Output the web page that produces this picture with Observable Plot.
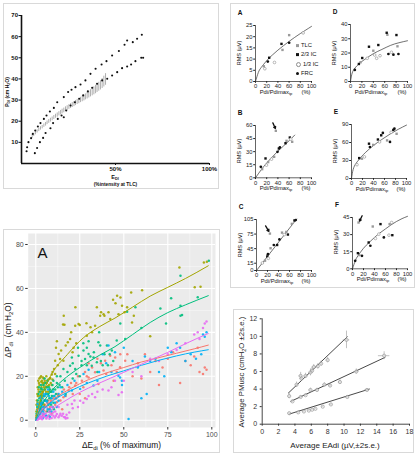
<!DOCTYPE html>
<html>
<head>
<meta charset="utf-8">
<script src="https://cdn.jsdelivr.net/npm/d3@7"></script>
<script src="https://cdn.jsdelivr.net/npm/@observablehq/plot@0.6"></script>
<style>
  body { margin: 0; background: #fff; }
  #fig { position: relative; width: 418px; height: 456px; overflow: hidden; background: #fff;
         font-family: "Liberation Sans", Arial, Helvetica, sans-serif; color: #111; }
  .box { position: absolute; border: 1.5px solid #d9d9d9; box-sizing: border-box; }
  .t { position: absolute; white-space: nowrap; line-height: 1; }
  .t sub { font-size: 70%; vertical-align: -0.3em; line-height: 0; }
  .sym { display: inline-block; width: 3px; height: 3px; margin-right: 2px; vertical-align: middle; }
</style>
</head>
<body>
<div id="fig"></div>
<script>
// ---------- Panel 1: Pdi vs diaphragm EMG intensity (% of TLC) ----------
const tlcUpper = [[2.7,5.8],[3.0,7.7],[3.7,10.1],[5.1,12.0],[6.0,14.0],[7.3,15.6],[8.7,17.5],[10.1,19.1],[11.9,21.1],[13.3,22.7],[15.1,24.6],[17.2,26.3],[19.0,29.0],[22.5,31.4],[24.8,33.8],[26.6,34.9],[28.7,36.1],[31.4,37.4],[34.0,39.3],[36.7,42.4],[39.4,44.8],[42.6,46.8],[45.2,48.4],[48.2,51.1],[51.8,53.2],[54.8,56.2],[56.2,58.2],[59.2,57.4],[61.5,59.0],[64.0,60.9]];
const tlcLower = [[7.1,4.9],[8.3,7.3],[9.8,10.1],[11.5,12.1],[12.8,14.4],[15.4,16.7],[16.8,19.1],[19.3,21.1],[21.3,22.7],[22.5,21.9],[23.8,25.1],[26.1,27.4],[28.4,29.0],[30.7,30.6],[32.8,32.2],[35.3,34.1],[37.6,35.8],[40.2,37.7],[42.9,39.3],[45.6,40.1],[48.2,41.6],[50.9,43.2],[53.5,45.1],[56.2,45.9],[58.3,46.8],[60.6,48.4],[63.7,50.0],[64.7,50.0]];
// mean band: [x, low, high]
const tlcBand = [[5.7,12.0,13.6],[6.5,12.8,14.3],[7.4,13.6,15.1],[8.3,14.4,15.9],[9.2,15.1,16.7],[10.1,15.8,17.4],[11.0,16.4,18.0],[11.9,17.1,18.7],[12.8,17.7,19.4],[13.6,18.4,20.1],[14.5,19.0,20.8],[15.4,19.6,21.4],[16.3,20.2,22.0],[17.2,20.8,22.7],[18.1,21.4,23.3],[19.0,21.9,23.9],[19.9,22.5,24.5],[20.8,23.0,25.1],[21.6,23.5,25.7],[22.5,24.0,26.2],[23.4,24.6,26.8],[24.3,25.1,27.3],[25.2,25.6,27.8],[26.1,26.0,28.3],[27.0,26.5,28.8],[27.9,26.9,29.3],[28.7,27.4,29.8],[29.6,27.9,30.3],[30.5,28.3,30.8],[31.4,28.8,31.3],[32.3,29.2,31.8],[33.2,29.6,32.4],[34.0,30.1,32.9],[34.9,30.5,33.5],[35.8,31.0,34.2],[36.7,31.5,34.9],[37.6,32.0,35.6],[38.5,32.5,36.3],[39.4,33.0,37.0],[40.2,33.6,37.6],[41.1,34.2,38.4],[42.0,34.8,39.2],[42.9,35.5,40.2],[43.8,36.2,41.3],[44.7,37.0,42.5]];
const p1YTicks = [10,20,30,40,50,60,70];
const p1XTicks = [50,100];

// ---------- Panel 2: RMS vs Pdi/Pdimax, six subjects ----------
const lungVolumes = ["TLC","2/3 IC","1/3 IC","FRC"];
const rmsA = [[14.9,6.8,"TLC"],[16.7,5.7,"1/3 IC"],[22,8.9,"FRC"],[24.4,10.6,"2/3 IC"],[33.9,8.5,"1/3 IC"],[46.4,16.8,"2/3 IC"],[48.2,14.1,"TLC"],[60.1,17.3,"FRC"],[60.1,20.7,"TLC"],[85.1,21.7,"1/3 IC"]];
const fitA = [[0,0],[5,4],[10,6.2],[20,9.3],[30,11.8],[40,14],[50,16],[60,17.9],[70,19.7],[80,21.4],[90,23],[100,24.6]];
const rmsD = [[7.6,8.1,"FRC"],[14.7,12.3,"2/3 IC"],[17.6,13.5,"TLC"],[20.6,16.5,"2/3 IC"],[29.4,16.3,"1/3 IC"],[32.4,24.4,"2/3 IC"],[40,21.6,"TLC"],[42.4,18.6,"1/3 IC"],[45.9,16.3,"1/3 IC"],[48.8,25.6,"2/3 IC"],[51.8,18.1,"1/3 IC"],[63.5,34.2,"2/3 IC"],[64.7,32.8,"TLC"],[66.5,19.3,"FRC"],[71.8,20.5,"1/3 IC"],[75.3,18.8,"FRC"],[80.6,32.6,"2/3 IC"],[82.4,24.7,"TLC"],[84.1,19.3,"FRC"]];
const fitD = [[0,0],[3,6],[8,9.5],[15,12.5],[25,15.5],[40,19.5],[55,22.5],[70,25.3],[85,27.2],[100,28.6]];
const rmsB = [[9.5,12.6,"FRC"],[11.9,9.9,"TLC"],[17.9,22.2,"2/3 IC"],[19.6,14.5,"1/3 IC"],[22.6,18,"TLC"],[28.6,21.4,"1/3 IC"],[33.3,24.1,"TLC"],[39.3,29.8,"FRC"],[41.7,33.6,"2/3 IC"],[43.5,34.8,"FRC"],[53.6,39.7,"2/3 IC"],[55.4,42.4,"TLC"],[61.3,46.2,"2/3 IC"],[63.1,44.3,"1/3 IC"],[65.5,41.3,"TLC"],[36.3,53.9,"TLC"]];
const fitB = [[0,0],[10,9],[20,17],[30,24],[40,30.5],[50,36.5],[60,42.5],[70,49]];
const arrowB = [[31,63,35.5,56.5]];
const rmsE = [[10,23,"1/3 IC"],[14,34,"2/3 IC"],[19,33,"TLC"],[23.5,36,"1/3 IC"],[31.8,58,"2/3 IC"],[33.5,52.5,"FRC"],[39.4,56,"TLC"],[48,65,"2/3 IC"],[51,61,"1/3 IC"],[54,72,"2/3 IC"],[57,76,"FRC"],[64.7,63.5,"TLC"],[70,61,"FRC"],[72,77,"1/3 IC"],[76,81,"2/3 IC"],[78,83,"FRC"],[82,74.5,"TLC"]];
const fitE = [[0,0],[3,15],[8,25],[15,33],[25,43],[40,55],[55,65],[70,74],[85,82],[100,89]];
const rmsC = [[10.7,15.5,"1/3 IC"],[15.5,20.2,"TLC"],[19.6,28.9,"2/3 IC"],[20.8,33.6,"FRC"],[21.5,25,"1/3 IC"],[25.6,45.8,"TLC"],[31.5,52.5,"FRC"],[37.5,52.5,"2/3 IC"],[41.7,64,"FRC"],[46.4,78,"TLC"],[50.6,74,"1/3 IC"],[54.2,79.4,"TLC"],[57.1,74,"2/3 IC"],[64.3,96,"TLC"],[69,103,"2/3 IC"],[71.4,104,"FRC"],[24.4,76,"TLC"]];
const fitC = [[0,0],[73,106]];
const arrowC = [[16.5,92,22.5,80.5]];
const rmsF = [[4.9,7,"FRC"],[9.8,13.7,"2/3 IC"],[12.3,12,"TLC"],[17.2,11.4,"FRC"],[29.4,23.1,"2/3 IC"],[32.5,20.2,"FRC"],[36.8,37.1,"TLC"],[41.7,26.6,"1/3 IC"],[47.9,30.4,"1/3 IC"],[50.9,39.2,"2/3 IC"],[57,27.5,"FRC"],[66.3,29.5,"1/3 IC"],[67.5,39.2,"TLC"],[71.2,40.6,"1/3 IC"],[72.4,29.5,"2/3 IC"],[11,40.6,"TLC"]];
const fitF = [[0,0],[5,7],[10,11.5],[20,18],[30,23],[40,27.5],[50,31.5],[60,35],[70,38.5],[80,41.5],[90,44],[100,46]];
const arrowF = [[17.5,46.5,12.8,41.8]];
const pctTicks = [0,20,40,60,80,100];

// ---------- Panel 3: delta Pdi vs delta Edi, five subjects ----------
const subjRed = [[1,1],[2,3],[3,5],[4,2],[5,7],[6,4],[7,9],[8,6],[9,3],[10,10],[11,7],[12,8.2],[13,11],[15.7,10.5],[16,14],[18.6,13.5],[20,17],[22.4,15.8],[24,20],[26.2,18],[28,22],[30,19.5],[32,24],[33.7,21.8],[35.6,16.5],[38.5,22.6],[39.4,27.1],[42.3,29.4],[44.2,18],[45.1,28.6],[47.9,24.1],[50.8,27.1],[52,30],[55,20],[58,26],[60,19],[62,30],[65,22],[68,27],[70,16],[72,24],[75,28],[78,31],[82,17],[85,27],[88,25],[90,29],[93,22],[95,21],[96,24],[97,23],[92,33],[25,12],[15,5],[35,28],[48,30],[28,10],[40,21],[37,26],[43,25],[30,26],[46,22],
  [0.5,2],[1.5,4],[2.5,1],[3.5,7],[4.5,4.5],[6.5,8],[7.5,5],[8.5,9],[9.5,6],[11.5,10],[12.5,12],[14,9],[17,11],[19,15],[21,12],[23,17],[27,15],[29,20]];
const subjOlive = [[0.5,2],[0.8,5],[1,8],[1.2,11],[1.5,14],[1.8,17],[2,19],[2.2,3],[2.5,6],[2.8,9],[3,12],[3.2,15],[3.5,18],[3.8,10],[4,13],[4.2,16],[4.5,19],[4.8,7],[5,11],[5.2,14],[5.5,17],[6,15],[6.5,18],[7,13],[7.5,16],[8,19],[8.2,19.2],[9.1,20.8],[10.4,23.3],[11,27.1],[13,30.2],[13.8,27.9],[15.7,27.1],[14.4,31.7],[16.3,43.5],[17,34],[18.2,35.5],[20.1,40],[20.9,30.9],[22.4,43],[22.5,51.4],[24.3,43.8],[25,43.3],[15.9,47.6],[15.5,43.6],[29,38.5],[28.8,44.1],[31.1,42.3],[32,40],[33.7,43],[34.7,51.4],[36.6,47.6],[37.1,49.1],[38.5,48.3],[39,47.6],[41.3,49.1],[42.3,46.1],[43.9,54.8],[45.3,53.3],[46.2,56.7],[47,48.3],[48.1,55.9],[49,52.1],[50.4,49.1],[51.9,51.4],[54.2,58.2],[54.7,44.5],[55.7,47.6],[60.4,59.2],[65,38.2],[81.6,69.5],[90.3,60.5],[93.6,60.8],[95.5,71.8],[97.2,72.1],[12,36],[11.5,33],[12.5,25],[9.5,22],[19.5,37],[21.5,33],[23,35],[3,20],[6,20],[9,16],[11,21],
  [0.3,4],[0.6,9],[0.9,12],[1.1,15],[1.4,18],[1.7,13],[2.1,16],[2.4,11],[2.6,19.5],[2.9,14],[3.3,8],[3.6,13],[3.9,17],[4.1,19.5],[4.4,11],[4.7,15],[5.1,18],[5.4,9],[5.8,13],[6.2,17],[6.8,15.5],[7.2,18.5],[7.8,14],[8.5,17],[9.5,18.5],[1.3,6],[0.4,7],[2.3,8],[3.1,17.5],[4.6,17]];
const subjGreen = [[0.5,1],[1,4],[1.5,7],[2,10],[2.5,13],[3,16],[3.5,5],[4,8],[4.5,11],[5,14],[5.5,17],[6,6],[6.5,9],[7,12],[7.5,15],[8,4],[8.5,10],[9,13],[9.5,16],[10,8],[11,14],[12,17],[13,11],[14,20],[15,15],[15.7,23.3],[16.5,18],[18,22],[19.5,24.8],[20.5,28.6],[22.4,23.3],[24.3,29.4],[25,20],[27.1,31.7],[28,27.9],[30,30.2],[31.8,24.8],[32.8,28.6],[34.7,26.4],[35.6,35.5],[36.6,34],[38,25],[40.4,34],[42,30],[43.2,31.7],[46,36.3],[48,44],[50.8,37],[51.9,49.4],[56.6,51.4],[60,42],[70.8,50.9],[76.9,55.5],[82.2,52.1],[82.2,47.6],[83.1,47.9],[82.2,65.8],[98.3,72.6],[74,44],[92,56],[36,40],[30,36],[26,25],[12,20],[10,18],[5,19],[17,12],[21,19],[21,26],[23,21],[26,27],[29,25],[31,29],[33,31],[35,22],[37,27],[39,30],[41,25],[44,27],[24,33],[27,35],[29,33],[6,12],[8,14],[3,9],
  [0.4,3],[0.8,6],[1.2,9],[1.6,12],[2.2,5],[2.7,8],[3.2,11],[3.7,14],[4.2,3],[4.7,6],[5.2,9],[5.7,12],[6.2,15],[6.7,4],[7.2,7],[7.7,10],[8.2,13],[8.7,7],[9.2,11],[9.7,14],[10.5,11],[11.5,12],[12.5,15],[13.5,16],[3,14.5],[4.5,16],[1.8,15],[6.8,18],[10.3,5],[7.5,2]];
const subjBlue = [[0.5,0.5],[1,3],[1.5,6],[2,2],[2.5,8],[3,4],[3.5,10],[4,6],[5,3],[5.5,9],[6,12],[7.2,7.4],[8,5],[9,10],[10,13],[11,8],[12.9,8.9],[14,15],[16.7,11.2],[18,16],[20.5,13.5],[22,18],[25.2,14.2],[27.1,21],[29,17],[32.8,15.8],[36,22],[41.3,34],[40,26],[45,31],[46.9,20.3],[47.9,19.5],[48.9,18],[49,16],[52.7,0.6],[55,27],[58,24],[60,10],[62,29],[63,12],[65,27],[68,28],[70,22],[73,20],[75,33],[77,31],[80,35],[82,33],[85,27],[88,30],[91,28],[94,30],[95,39],[96,38],[97,40],[30,23],[35,18],[43,22],[38,30],[50,33],[2,5],[4,1],[6,2],[3,7],
  [0.3,1],[0.7,2],[1.2,4.5],[1.7,1],[2.2,7],[2.7,3],[3.2,5.5],[3.7,8],[4.2,4],[4.7,9],[5.2,6],[5.7,2],[6.3,8.5],[6.8,5],[7.5,11],[8.5,8],[9.5,6],[10.5,11],[11.5,10],[13,12],[15,13],[1,7.5],[2.8,10.5],[4.5,12],[7,14],[3.5,1.5],[5,11],[8,1.5],[9,4],[12,6]];
const subjMagenta = [[0.5,0.5],[1,1.5],[1.5,3],[2,0.8],[2.5,2],[3,1],[3.4,1.4],[4,3],[5,1.5],[5.3,2.9],[6,0.8],[7.2,2.1],[8,3.5],[9,1],[10,2],[11,4],[12,2.9],[12.9,1.4],[14,3],[14.8,2.1],[16,1.5],[16.7,1.4],[17.5,2.5],[18,1],[20.5,7.4],[22,9],[25.2,8.9],[29,9.7],[32,12],[33.7,10.5],[38,14],[41.3,13.5],[45,18],[47,11.5],[48.9,12.7],[50,18],[55,22],[60,20],[65,28],[70,27],[75,30],[80,32],[85,35],[90,39],[92,40],[95,42],[96,44],[97,45],[93,37],
  [0.2,0.2],[0.7,0.5],[1.2,0.3],[1.8,2],[2.3,1.2],[2.8,3.5],[3.6,0.5],[4.5,2],[6.5,1.5],[7.8,0.7],[8.8,2.5],[9.8,3.5],[10.8,1.2],[11.5,2],[13.5,2.2],[15.5,3],[17,0.8],[19,3.5],[21,5.5],[24,6],[27,8],[30,11],[35,13],[43,15],[1.5,4.5],[4,5],[6,6],[9,6],[13,6],[18,7]];
const fitRed = [[0,0],[5,6],[10,9.5],[20,14.5],[30,18.5],[40,21.5],[50,24],[60,26.5],[70,28.5],[80,30.5],[90,32.5],[98,34.2]];
const fitOlive = [[0,1],[3,10],[8.2,19.8],[18,30],[27,37.5],[36,42.5],[45,46.5],[55,51.5],[65,56.5],[75,60.5],[85,64.5],[98,70.3]];
const fitGreen = [[0,0],[3,6],[8,12.5],[15,18],[25,24],[36,29.5],[45,33.5],[55,39],[65,44.5],[75,49],[85,52.5],[98,56.7]];
const fitBlue = [[0,0],[5,5.5],[10,9],[20,13.5],[30,17],[40,20],[50,22.5],[60,25],[70,27.3],[80,29.3],[90,31],[98,32.1]];
const fitMagenta = [[2,0.5],[8,4.4],[15,8],[25,12.7],[35,16.5],[50,21.8],[60,25.5],[75,30.9],[85,34.8],[98,39.5]];
const p3XTicks = [0,25,50,75,100], p3XMinor = [12.5,37.5,62.5,87.5];
const p3YTicks = [0,20,40,60,80], p3YMinor = [10,30,50,70];

// ---------- Panel 4: PMusc vs EAdi, three conditions (x, y, x err, y err) ----------
const pmSteep = [[3.3,3.2,0.15,0.3],[4.2,4.5,0.15,0.3],[4.7,5.5,0.2,0.4],[4.8,5.2,0.2,0.3],[5.3,5.5,0.2,0.3],[5.9,5.9,0.2,0.4],[6.1,6.1,0.2,0.3],[6.3,6.5,0.2,0.3],[6.8,6.6,0.2,0.3],[7.2,6.9,0.2,0.3],[8.0,7.3,0.2,0.3],[10.3,9.6,0.4,1.0]];
const pmMid = [[3.7,2.6,0.15,0.15],[4.7,3.1,0.15,0.15],[5.3,3.3,0.15,0.15],[5.9,3.9,0.2,0.2],[6.7,3.9,0.2,0.2],[7.6,4.5,0.2,0.2],[8.3,4.4,0.2,0.2],[9.5,4.8,0.2,0.25],[11.5,6.0,0.3,0.3],[14.9,7.8,0.7,0.45]];
const pmFlat = [[3.3,1.25,0.15,0.1],[4.4,1.35,0.15,0.1],[5.1,1.45,0.15,0.1],[5.7,1.55,0.15,0.1],[6.1,1.65,0.15,0.1],[6.5,1.75,0.15,0.1],[7.4,2.0,0.15,0.1],[8.4,2.25,0.2,0.1],[10.4,3.1,0.25,0.15],[12.8,3.9,0.3,0.15]];
const pmFitSteep = [[3.2,3.55],[10.4,9.95]];
const pmFitMid = [[3.5,2.6],[15,7.6]];
const pmFitFlat = [[3.3,1.15],[13.1,4.0]];
const p4XTicks = [0,2,4,6,8,10,12,14,16,18];
const p4YTicks = [0,2,4,6,8,10,12];

// ---------- helpers ----------
const FONT = '"Liberation Sans", Arial, Helvetica, sans-serif';
const fig = document.getElementById("fig");
const X = d => d[0], Y = d => d[1];

function put(node, left, top) {
  node.style.position = "absolute";
  node.style.left = left + "px";
  node.style.top = top + "px";
  fig.appendChild(node);
  return node;
}
function box(left, top, w, h) {
  const d = document.createElement("div");
  d.className = "box";
  d.style.width = w + "px"; d.style.height = h + "px";
  put(d, left, top);
}
// anchor: "c" centred, "l" left-middle; rot turns the label -90deg about its centre
function txt(html, x, y, css = "", anchor = "c", rot = false) {
  const d = document.createElement("div");
  d.className = "t";
  d.innerHTML = html;
  d.style.cssText += css;
  const tx = anchor === "c" ? "-50%" : anchor === "l" ? "0" : "-100%";
  d.style.transform = `translate(${tx},-50%)` + (rot ? " rotate(-90deg)" : "");
  put(d, x, y);
  return d;
}
function plot(opts) {
  return Plot.plot({...opts, style: {background: "transparent", fontFamily: FONT, overflow: "visible"}});
}

// ---------- panel frames ----------
box(3, 3, 216, 186);
box(230, 3, 185, 285);
box(3, 229, 217, 224);
box(233, 309, 181, 144);

// ---------- Panel 1 ----------
put(plot({
  width: 216, height: 186, marginLeft: 18, marginRight: 10, marginTop: 12, marginBottom: 26,
  x: {domain: [0, 100]}, y: {domain: [0, 70]},
  marks: [
    Plot.axisX({ticks: p1XTicks, tickFormat: d => d + "%", tickSize: 2, tickPadding: 1.5, fontSize: 6, fontWeight: "bold", label: null, stroke: "#111"}),
    Plot.axisY({ticks: p1YTicks, tickSize: 2.5, tickPadding: 1, fontSize: 6, fontWeight: "bold", label: null, stroke: "#111"}),
    Plot.ruleY([0], {stroke: "#111", strokeWidth: 1.6}),
    Plot.ruleX([0], {y1: 0, y2: 70, stroke: "#111", strokeWidth: 1.6}),
    Plot.ruleX(tlcBand, {x: X, y1: d => d[1], y2: d => d[2], stroke: "#7a7a7a", strokeWidth: 0.6}),
    Plot.dot(tlcUpper, {x: X, y: Y, r: 1.05, fill: "#111"}),
    Plot.dot(tlcLower, {x: X, y: Y, r: 1.05, fill: "#111"})
  ]
}), 3, 3);
txt("P<sub>DI</sub> (cm H<sub>2</sub>O)", 6.5, 92, "font-size:5px;font-weight:bold;", "c", true);
txt("E<sub>DI</sub>", 115, 177.5, "font-size:5.5px;font-weight:bold;");
txt("(%intensity at TLC)", 115.5, 184.5, "font-size:4.8px;font-weight:bold;");

// ---------- Panel 2 ----------
const volStyle = {
  "TLC":    {symbol: "square", fill: "#9a9a9a", stroke: "none"},
  "2/3 IC": {symbol: "square", fill: "#111",    stroke: "none"},
  "1/3 IC": {symbol: "circle", fill: "#fff",    stroke: "#8c8c8c"},
  "FRC":    {symbol: "circle", fill: "#111",    stroke: "none"}
};
function rmsPanel({letter, fx0, fx1, fy0, fy1, yMax, yTicks, points, fit, arrows = [], curve = "natural"}) {
  const ml = 24, mr = 10, mt = 10, mb = 12;
  const marks = [
    Plot.axisX({ticks: pctTicks, tickSize: 1.8, tickPadding: 1, fontSize: 5.8, label: null, stroke: "#222", fill: "#222"}),
    Plot.axisY({ticks: yTicks, tickSize: 1.8, tickPadding: 1.2, fontSize: 5.8, label: null, stroke: "#222", fill: "#222"}),
    Plot.ruleY([0], {stroke: "#222", strokeWidth: 0.7}),
    Plot.ruleX([0], {y1: 0, y2: yMax, stroke: "#222", strokeWidth: 0.7}),
    Plot.line(fit, {x: X, y: Y, curve, stroke: "#333", strokeWidth: 0.7})
  ];
  for (const v of lungVolumes) {
    marks.push(Plot.dot(points.filter(p => p[2] === v), {x: X, y: Y, r: 1.35, strokeWidth: 0.6, ...volStyle[v]}));
  }
  if (arrows.length) {
    marks.push(Plot.arrow(arrows, {x1: d => d[0], y1: d => d[1], x2: d => d[2], y2: d => d[3], stroke: "#111", strokeWidth: 1.3, headLength: 3.5, bend: 0}));
  }
  put(plot({
    width: ml + (fx1 - fx0) + mr, height: mt + (fy1 - fy0) + mb,
    marginLeft: ml, marginRight: mr, marginTop: mt, marginBottom: mb,
    x: {domain: [0, 100]}, y: {domain: [0, yMax]},
    marks
  }), fx0 - ml, fy0 - mt);
  txt(letter, fx0 - 15, fy0 - 12, "font-size:6.5px;font-weight:bold;");
  txt("RMS (μV)", fx0 - 15, (fy0 + fy1) / 2, "font-size:5.6px;", "c", true);
  txt("Pdi/Pdimax<sub>tp</sub>", fx0 + 21, fy1 + 12, "font-size:5.8px;");
  txt("(%)", fx1 - 5, fy1 + 12, "font-size:5.8px;");
}
rmsPanel({letter: "A", fx0: 255, fx1: 311, fy0: 25, fy1: 81, yMax: 25, yTicks: [0,5,10,15,20,25], points: rmsA, fit: fitA});
rmsPanel({letter: "D", fx0: 350, fx1: 407, fy0: 24, fy1: 81, yMax: 40, yTicks: [0,10,20,30,40], points: rmsD, fit: fitD});
rmsPanel({letter: "B", fx0: 255, fx1: 311, fy0: 124.7, fy1: 177, yMax: 60, yTicks: [0,15,30,45,60], points: rmsB, fit: fitB, arrows: arrowB});
rmsPanel({letter: "E", fx0: 351, fx1: 406, fy0: 124, fy1: 178, yMax: 90, yTicks: [0,30,60,90], points: rmsE, fit: fitE});
rmsPanel({letter: "C", fx0: 256, fx1: 311, fy0: 219, fy1: 270, yMax: 105, yTicks: [0,15,45,75,105], points: rmsC, fit: fitC, arrows: arrowC, curve: "linear"});
rmsPanel({letter: "F", fx0: 352, fx1: 407, fy0: 216.7, fy1: 268, yMax: 45, yTicks: [0,15,30,45], points: rmsF, fit: fitF, arrows: arrowF});

// legend for the lung volumes (subject A)
lungVolumes.forEach((v, i) => {
  const s = volStyle[v];
  const mark = `<span class="sym" style="background:${s.fill};border:${s.stroke === "none" ? "0" : "0.6px solid " + s.stroke};border-radius:${s.symbol === "circle" ? "50%" : "0"}"></span>`;
  txt(mark + v, 296, 46 + i * 9.3, "font-size:5.8px;", "l");
});

// ---------- Panel 3 ----------
const hue = {red: "#F8766D", olive: "#A3A500", green: "#00BF7D", blue: "#00B0F6", magenta: "#E76BF3"};
const subjects = [
  [subjRed, fitRed, hue.red],
  [subjOlive, fitOlive, hue.olive],
  [subjGreen, fitGreen, hue.green],
  [subjBlue, fitBlue, hue.blue],
  [subjMagenta, fitMagenta, hue.magenta]
];
put(plot({
  width: 217, height: 224, marginLeft: 24.7, marginRight: 5, marginTop: 4, marginBottom: 26,
  x: {domain: [-4.3, 102.1]}, y: {domain: [-3.3, 85]},
  marks: [
    Plot.frame({fill: "#EBEBEB", stroke: null}),
    Plot.gridX({ticks: p3XMinor, stroke: "#fff", strokeOpacity: 0.8, strokeWidth: 0.5}),
    Plot.gridY({ticks: p3YMinor, stroke: "#fff", strokeOpacity: 0.8, strokeWidth: 0.5}),
    Plot.gridX({ticks: p3XTicks, stroke: "#fff", strokeOpacity: 1, strokeWidth: 1.1}),
    Plot.gridY({ticks: p3YTicks, stroke: "#fff", strokeOpacity: 1, strokeWidth: 1.1}),
    Plot.axisX({ticks: p3XTicks, tickSize: 2.5, tickPadding: 2, fontSize: 7, label: null, stroke: "#333", fill: "#4D4D4D"}),
    Plot.axisY({ticks: p3YTicks, tickSize: 2.5, tickPadding: 2, fontSize: 7, label: null, stroke: "#333", fill: "#4D4D4D"}),
    ...subjects.map(([pts, , c]) => Plot.dot(pts, {x: X, y: Y, r: 1.25, fill: c, fillOpacity: 0.9})),
    ...subjects.map(([, fit, c]) => Plot.line(fit, {x: X, y: Y, curve: "monotone-x", stroke: c, strokeWidth: 1}))
  ]
}), 3, 229);
txt("A", 42.5, 251.5, "font-size:15px;");
txt("ΔE<sub>di</sub> (% of maximum)", 121.5, 444.5, "font-size:8.4px;");
txt("ΔP<sub>di</sub>&nbsp; (cm H<sub>2</sub>O)", 7.5, 330, "font-size:8.4px;", "c", true);

// ---------- Panel 4 ----------
const pmSeries = [[pmSteep, pmFitSteep], [pmMid, pmFitMid], [pmFlat, pmFitFlat]];
const pmMarks = [];
for (const [pts, fit] of pmSeries) {
  pmMarks.push(Plot.line(fit, {x: X, y: Y, stroke: "#333", strokeWidth: 0.9}));
  pmMarks.push(Plot.ruleX(pts, {x: X, y1: d => d[1] - d[3], y2: d => d[1] + d[3], stroke: "#999", strokeWidth: 0.6}));
  pmMarks.push(Plot.ruleY(pts, {y: Y, x1: d => d[0] - d[2], x2: d => d[0] + d[2], stroke: "#999", strokeWidth: 0.6}));
  pmMarks.push(Plot.dot(pts, {x: X, y: Y, r: 1.6, fill: "#fff", fillOpacity: 0.5, stroke: "#8a8a8a", strokeWidth: 0.6}));
}
put(plot({
  width: 179, height: 132, marginLeft: 26.7, marginRight: 5, marginTop: 7.3, marginBottom: 19.3,
  x: {domain: [0, 18]}, y: {domain: [0, 12]},
  marks: [
    Plot.axisX({ticks: p4XTicks, tickSize: 2, tickPadding: 3, fontSize: 7, label: null, stroke: "#333", fill: "#333"}),
    Plot.axisY({ticks: p4YTicks, tickSize: 2, tickPadding: 3, fontSize: 7, label: null, stroke: "#333", fill: "#333"}),
    Plot.ruleY([0], {stroke: "#333", strokeWidth: 0.9}),
    Plot.ruleX([0], {stroke: "#333", strokeWidth: 0.9}),
    ...pmMarks
  ]
}), 235, 311);
txt("Average EAdi (µV,±2s.e.)", 335, 445.5, "font-size:8px;color:#222;");
txt("Average PMusc (cmH<sub>2</sub>O ±2s.e.)", 242, 372, "font-size:7.8px;color:#222;", "c", true);
</script>
</body>
</html>
